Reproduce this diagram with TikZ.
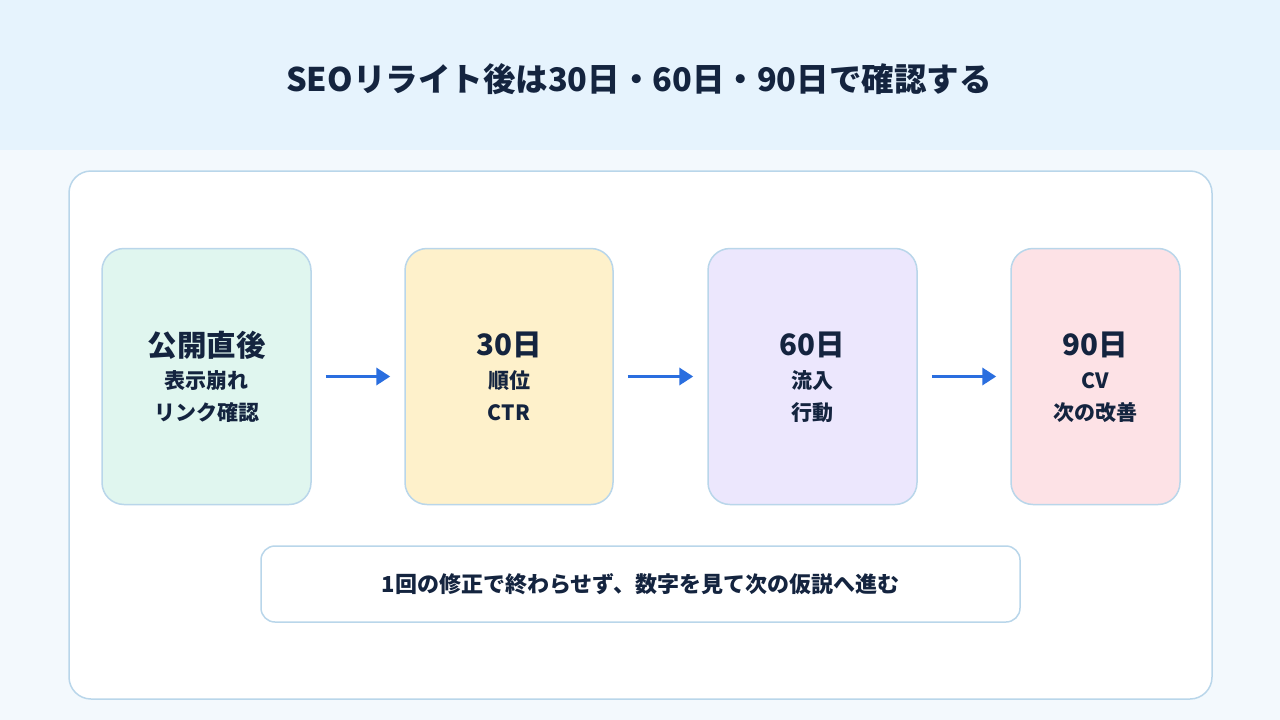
\documentclass[tikz,border=0pt]{standalone}
\usepackage{fontspec}
\setmainfont{Noto Sans CJK JP}
\usetikzlibrary{arrows.meta}
\definecolor{headbg}{HTML}{E6F3FD}
\definecolor{bodybg}{HTML}{F3F9FD}
\definecolor{edge}{HTML}{B9D6EA}
\definecolor{ink}{HTML}{14243F}
\definecolor{arrowc}{HTML}{2A6EDF}
\definecolor{fgreen}{HTML}{E0F6EF}
\definecolor{fyellow}{HTML}{FEF1CB}
\definecolor{fpurple}{HTML}{ECE7FD}
\definecolor{fpink}{HTML}{FDE2E6}
\tikzset{
  stagebox/.style={draw=edge, line width=1.5pt, rounded corners=22pt, inner sep=0pt, minimum height=256pt},
  headtxt/.style={text=ink, font=\bfseries\fontsize{29.5}{34}\selectfont, inner sep=0pt},
  subtxt/.style={text=ink, font=\bfseries\fontsize{21}{25}\selectfont, inner sep=0pt},
  flowarrow/.style={draw=arrowc, line width=3.5pt, -{Triangle[length=14pt,width=17pt]}, shorten <=14pt, shorten >=14pt}
}
\begin{document}
\begin{tikzpicture}[x=1pt,y=-1pt]
\useasboundingbox (0,0) rectangle (1280,720);
\fill[bodybg] (0,0) rectangle (1280,720);
\fill[headbg] (0,0) rectangle (1280,150);
\node[text=ink, font=\bfseries\fontsize{32.5}{38}\selectfont, inner sep=0pt] (title) at (639,79) {SEOリライト後は30日・60日・90日で確認する};
\node[draw=edge, fill=white, line width=1.5pt, rounded corners=22pt, minimum width=1143pt, minimum height=528pt, inner sep=0pt] (frame) at (640.5,435) {};
\node[stagebox, fill=fgreen, minimum width=209pt] (b1) at (206.5,376.5) {};
\node[stagebox, fill=fyellow, minimum width=208pt] (b2) at (509,376.5) {};
\node[stagebox, fill=fpurple, minimum width=209pt] (b3) at (812.5,376.5) {};
\node[stagebox, fill=fpink, minimum width=169pt] (b4) at (1095.5,376.5) {};
\node[headtxt] (h1) at ([yshift=31.5pt]b1.center) {公開直後};
\node[subtxt] (s1a) at ([yshift=-4.5pt]b1.center) {表示崩れ};
\node[subtxt] (s1b) at ([yshift=-36.5pt]b1.center) {リンク確認};
\node[headtxt] (h2) at ([yshift=31.5pt]b2.center) {30日};
\node[subtxt] (s2a) at ([yshift=-4.5pt]b2.center) {順位};
\node[subtxt] (s2b) at ([yshift=-36.5pt]b2.center) {CTR};
\node[headtxt] (h3) at ([yshift=31.5pt]b3.center) {60日};
\node[subtxt] (s3a) at ([yshift=-4.5pt]b3.center) {流入};
\node[subtxt] (s3b) at ([yshift=-36.5pt]b3.center) {行動};
\node[headtxt] (h4) at ([yshift=31.5pt]b4.center) {90日};
\node[subtxt] (s4a) at ([yshift=-4.5pt]b4.center) {CV};
\node[subtxt] (s4b) at ([yshift=-36.5pt]b4.center) {次の改善};
\draw[flowarrow] (b1.east) -- (b2.west);
\draw[flowarrow] (b2.east) -- (b3.west);
\draw[flowarrow] (b3.east) -- (b4.west);
\node[draw=edge, fill=white, line width=1.5pt, rounded corners=14pt, minimum width=759pt, minimum height=76pt, inner sep=0pt] (note) at (640.5,584) {};
\node[text=ink, font=\bfseries\fontsize{22}{26}\selectfont, inner sep=0pt] (notetxt) at (note.center) {1回の修正で終わらせず、数字を見て次の仮説へ進む};
\end{tikzpicture}
\end{document}
